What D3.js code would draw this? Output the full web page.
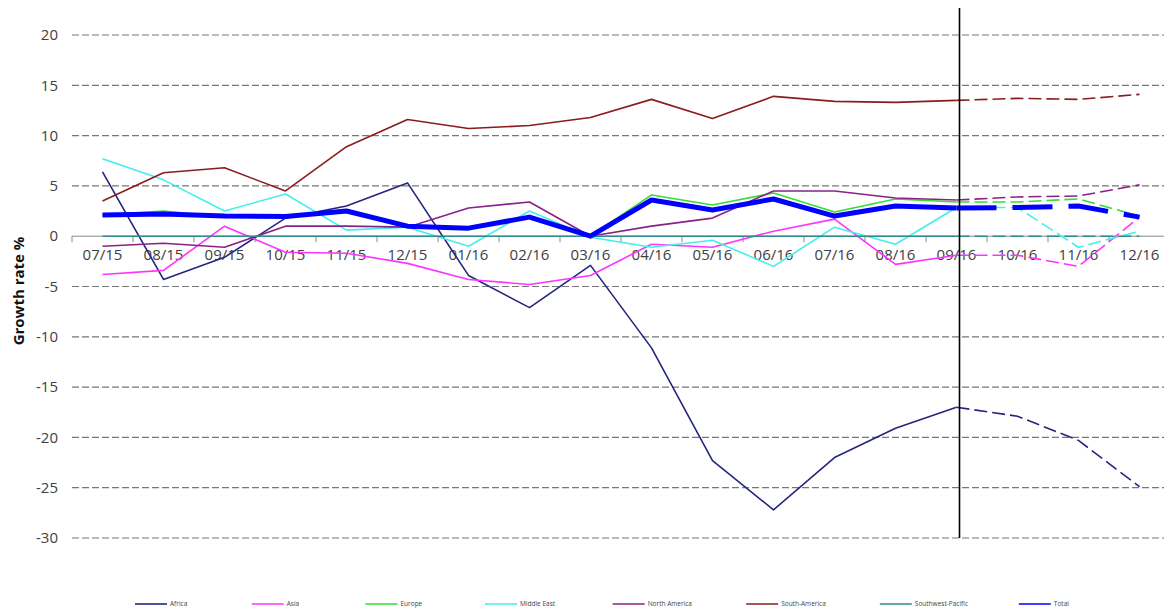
<!DOCTYPE html>
<meta charset="utf-8">
<head>
<script src="https://d3js.org/d3.v7.min.js"></script>
<style>
  body { margin: 0; background: #fff; }
  text { font-family: "Open Sans", "Noto Sans", sans-serif; }
</style>
</head>
<body>
<div id="chart"></div>
<script>

// categories (months) and series values, growth rate %
var months = ["07/15","08/15","09/15","10/15","11/15","12/15","01/16","02/16","03/16",
              "04/16","05/16","06/16","07/16","08/16","09/16","10/16","11/16","12/16"];
var forecastFrom = "09/16";

var africa    = [6.4,-4.3,-2.1,1.8,3.0,5.3,-3.9,-7.1,-2.9,-11.1,-22.3,-27.2,-22.0,-19.1,-17.0,-17.9,-20.3,-24.9];
var asia      = [-3.8,-3.4,1.0,-1.6,-1.7,-2.7,-4.3,-4.8,-3.9,-0.8,-1.1,0.5,1.7,-2.8,-1.9,-1.9,-3.0,1.9];
var europe    = [2.1,2.5,1.9,1.9,2.5,1.0,0.8,2.0,0.0,4.1,3.1,4.3,2.4,3.7,3.4,3.4,3.7,2.0];
var middleEast= [7.7,5.6,2.5,4.2,0.6,0.9,-1.0,2.5,-0.1,-1.1,-0.4,-3.0,0.9,-0.8,2.85,2.85,-1.1,0.5];
var northAm   = [-1.0,-0.7,-1.1,1.0,1.0,0.9,2.8,3.4,0.0,1.0,1.8,4.5,4.5,3.8,3.6,3.9,4.0,5.1];
var southAm   = [3.5,6.3,6.8,4.5,8.9,11.6,10.7,11.0,11.8,13.6,11.7,13.9,13.4,13.3,13.5,13.7,13.6,14.1];
var swPacific = [0,0,0,0,0,0,0,0,0,0,0,0,0,0,0,0,0,0];
var total     = [2.1,2.2,2.0,1.95,2.5,1.0,0.8,1.9,0.0,3.6,2.6,3.7,2.0,3.0,2.8,2.85,3.0,1.9];

var yTicks = [20,15,10,5,0,-5,-10,-15,-20,-25,-30];

var series = [
  {name: "Africa", values: africa, color: "#25257f", width: 1.6},
  {name: "Asia", values: asia, color: "#ff33ff", width: 1.6},
  {name: "Europe", values: europe, color: "#33dd33", width: 1.6},
  {name: "Middle East", values: middleEast, color: "#44eeee", width: 1.6},
  {name: "North America", values: northAm, color: "#882288", width: 1.6},
  {name: "South-America", values: southAm, color: "#8b1c1c", width: 1.6},
  {name: "Southwest-Pacific", values: swPacific, color: "#2f8b8b", width: 1.6},
  {name: "Total", values: total, color: "#0000ff", width: 5}
];

var W = 1164, H = 612;
var svg = d3.select("#chart").append("svg").attr("width", W).attr("height", H);

var x = d3.scalePoint().domain(months).range([72, 1170]).padding(0.5);
var step = x.step();
var y = d3.scaleLinear().domain([-30, 20]).range([538, 35]);

// gridlines
svg.append("g").selectAll("line")
  .data(yTicks.filter(function(d){ return d !== 0; }))
  .join("line")
    .attr("x1", 72).attr("x2", W)
    .attr("y1", function(d){ return y(d); }).attr("y2", function(d){ return y(d); })
    .attr("stroke", "#777").attr("stroke-width", 1.2)
    .attr("stroke-dasharray", "7,3");

// y tick labels
svg.append("g").selectAll("text")
  .data(yTicks)
  .join("text")
    .attr("x", 58).attr("y", function(d){ return y(d); })
    .attr("dy", "0.35em").attr("text-anchor", "end")
    .attr("font-size", 15).attr("fill", "#404040")
    .text(function(d){ return d; });

// y axis title
svg.append("text")
  .attr("transform", "translate(24,291) rotate(-90)")
  .attr("text-anchor", "middle")
  .attr("font-size", 15).attr("font-weight", "bold").attr("fill", "#111")
  .text("Growth rate %");

// x axis at zero, ticks between categories
var xAxis = svg.append("g");
xAxis.append("line")
  .attr("x1", 72).attr("x2", W).attr("y1", y(0)).attr("y2", y(0))
  .attr("stroke", "#888").attr("stroke-width", 1);
xAxis.selectAll(".tick")
  .data(months)
  .join("line")
    .attr("x1", function(d){ return x(d) - step / 2; })
    .attr("x2", function(d){ return x(d) - step / 2; })
    .attr("y1", y(0)).attr("y2", y(0) + 6)
    .attr("stroke", "#888");
xAxis.selectAll("text")
  .data(months)
  .join("text")
    .attr("x", function(d){ return x(d); })
    .attr("y", y(0) + 24)
    .attr("text-anchor", "middle")
    .attr("font-size", 15).attr("fill", "#404040")
    .text(function(d){ return d; });

// lines: solid actuals, dashed forecast
var fIdx = months.indexOf(forecastFrom);
var line = d3.line()
  .x(function(d){ return x(d.m); })
  .y(function(d){ return y(d.v); });

series.forEach(function(s) {
  var pts = s.values.map(function(v, i){ return {m: months[i], v: v}; });
  var dash = s.width > 3 ? "40,16" : "13,5";
  svg.append("path")
    .datum(pts.slice(0, fIdx + 1))
    .attr("fill", "none").attr("stroke", s.color)
    .attr("stroke-width", s.width).attr("stroke-linejoin", "round")
    .attr("d", line);
  svg.append("path")
    .datum(pts.slice(fIdx))
    .attr("fill", "none").attr("stroke", s.color)
    .attr("stroke-width", s.width).attr("stroke-dasharray", dash)
    .attr("d", line);
});

// forecast separator
svg.append("line")
  .attr("x1", x(forecastFrom) + 3).attr("x2", x(forecastFrom) + 3)
  .attr("y1", 8).attr("y2", y(-30))
  .attr("stroke", "#000").attr("stroke-width", 1.6);

// legend
var legend = svg.append("g");
var lx = 135;
series.forEach(function(s) {
  legend.append("line")
    .attr("x1", lx).attr("x2", lx + 32).attr("y1", 604).attr("y2", 604)
    .attr("stroke", s.color).attr("stroke-width", 1.6);
  var t = legend.append("text")
    .attr("x", lx + 35).attr("y", 604).attr("dy", "0.35em")
    .attr("font-size", 6.5).attr("fill", "#444")
    .text(s.name);
  lx += 106 + 0.62 * t.node().getComputedTextLength();
});

</script>
</body>
</html>
